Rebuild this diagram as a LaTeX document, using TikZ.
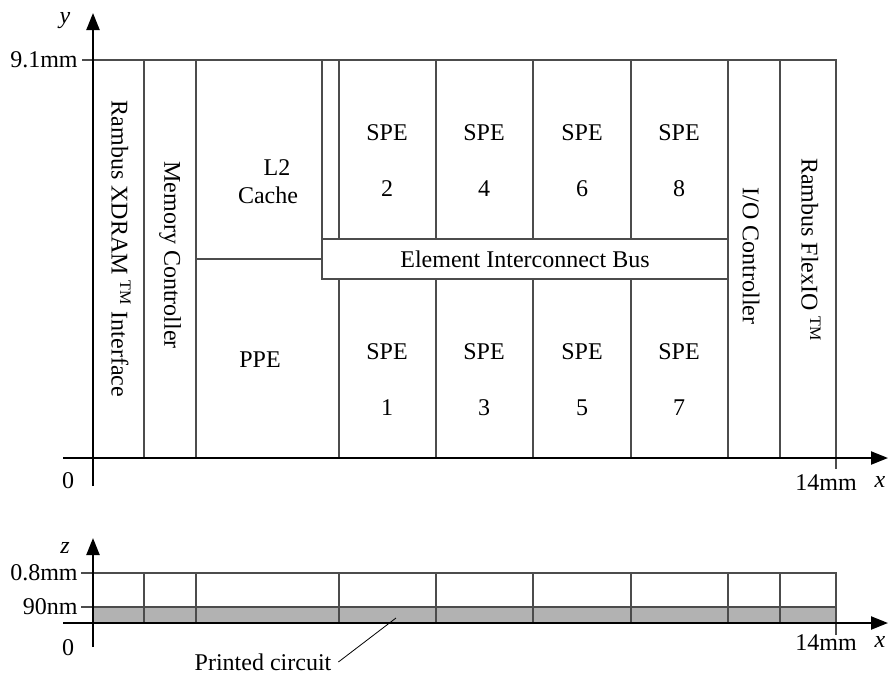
\documentclass[tikz,border=0pt]{standalone}
\usepackage{fontspec}
\setmainfont{Liberation Serif}
\usetikzlibrary{arrows.meta}
\tikzset{frame/.style = {draw=black!70, line width=0.55pt}}
\tikzset{axis/.style = {-{Triangle[length=8.5pt,width=6.5pt]}, line width=1.1pt}}
\tikzset{vlabel/.style = {rotate=-90}}
\tikzset{tick/.style = {anchor=east, inner sep=1pt}}

\begin{document}
\begin{tikzpicture}[x=0.5pt, y=-0.5pt, font=\fontsize{12}{14}\selectfont]
  \useasboundingbox (0,0) rectangle (888,675);

  % top view
  \draw[frame] (82,60) -- (836,60) -- (836,469);
  \draw[frame] (144,60) -- (144,458);
  \draw[frame] (196,60) -- (196,458);
  \draw[frame] (322,60) -- (322,259);
  \draw[frame] (196,259) -- (322,259);
  \draw[frame] (339,60) -- (339,239);
  \draw[frame] (339,279) -- (339,458);
  \draw[frame] (436,60) -- (436,239);
  \draw[frame] (436,279) -- (436,458);
  \draw[frame] (533,60) -- (533,239);
  \draw[frame] (533,279) -- (533,458);
  \draw[frame] (631,60) -- (631,239);
  \draw[frame] (631,279) -- (631,458);
  \draw[frame] (728,60) -- (728,458);
  \draw[frame] (780,60) -- (780,458);

  \node[vlabel] (xdr) at (121,249) {Rambus XDRAM \textsuperscript{TM} Interface};
  \node[vlabel] (mic) at (170,255) {Memory Controller};
  \node[align=center] (l2) at (268,182) {\hspace*{9pt}L2\\Cache};
  \node (ppe) at (260,360) {PPE};
  \node[frame, minimum width=203pt, minimum height=20pt, inner sep=0pt, fill=white]
    (eib) at (525,259) {Element Interconnect Bus};
  \node[align=center] (spe2) at (387,161) {SPE\\[14pt]2};
  \node[align=center] (spe4) at (484,161) {SPE\\[14pt]4};
  \node[align=center] (spe6) at (582,161) {SPE\\[14pt]6};
  \node[align=center] (spe8) at (679,161) {SPE\\[14pt]8};
  \node[align=center] (spe1) at (387,380) {SPE\\[14pt]1};
  \node[align=center] (spe3) at (484,380) {SPE\\[14pt]3};
  \node[align=center] (spe5) at (582,380) {SPE\\[14pt]5};
  \node[align=center] (spe7) at (679,380) {SPE\\[14pt]7};
  \node[vlabel] (ioc) at (751,256) {I/O Controller};
  \node[vlabel] (flexio) at (811,250) {Rambus FlexIO \textsuperscript{TM}};

  \coordinate (xa) at (63,458);
  \coordinate (xb) at (888,458);
  \coordinate (ya) at (93,486);
  \coordinate (yb) at (93,13);
  \draw[axis] (xa) -- (xb);
  \draw[axis] (ya) -- (yb);
  \node (ylab) at (65,21) {\textit{y}};
  \node[tick] (ymax) at (80,60) {9.1mm};
  \node (o1) at (68,481) {0};
  \node (xmax) at (826,483) {14mm};
  \node (xlab1) at (880,482) {\textit{x}};

  % side view
  \fill[black!30] (93,607) rectangle (836,623);
  \draw[frame] (81,573) -- (836,573) -- (836,635);
  \draw[frame] (81,607) -- (836,607);
  \draw[frame] (144,573) -- (144,623);
  \draw[frame] (196,573) -- (196,623);
  \draw[frame] (339,573) -- (339,623);
  \draw[frame] (436,573) -- (436,623);
  \draw[frame] (533,573) -- (533,623);
  \draw[frame] (631,573) -- (631,623);
  \draw[frame] (728,573) -- (728,623);
  \draw[frame] (780,573) -- (780,623);

  \coordinate (za) at (63,623);
  \coordinate (zb) at (888,623);
  \coordinate (zc) at (93,647);
  \coordinate (zd) at (93,538);
  \draw[axis] (za) -- (zb);
  \draw[axis] (zc) -- (zd);
  \node (zlab) at (65,548) {\textit{z}};
  \node[tick] (zmax) at (80,573) {0.8mm};
  \node[tick] (zlay) at (80,607) {90nm};
  \node (o2) at (68,648) {0};
  \node (xmax2) at (826,643) {14mm};
  \node (xlab2) at (880,642) {\textit{x}};

  \node (pc) at (263,662) {Printed circuit};
  \coordinate (pcend) at (396,618);
  \draw (pc.east) -- (pcend);
\end{tikzpicture}
\end{document}
